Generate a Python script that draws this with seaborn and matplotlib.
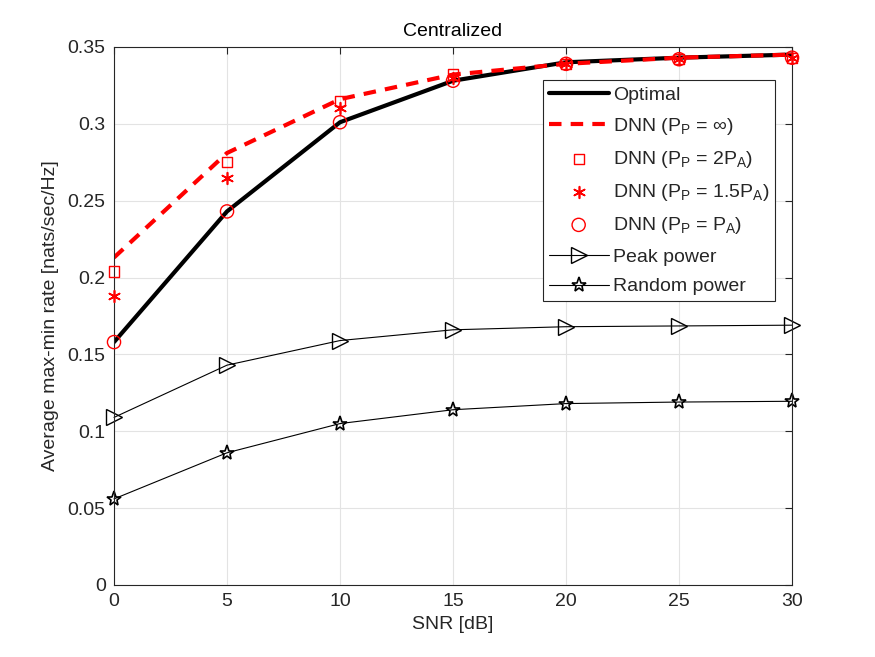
# max-min rate vs SNR, centralized case
import pandas as pd
import numpy as np
import seaborn as sns
import matplotlib.pyplot as plt

snr = [0, 5, 10, 15, 20, 25, 30]
optimal = [0.158, 0.243, 0.301, 0.328, 0.340, 0.343, 0.345]
dnn_inf = [0.213, 0.281, 0.316, 0.332, 0.339, 0.343, 0.345]
dnn_2pa = [0.204, 0.275, 0.315, 0.332, 0.339, 0.342, 0.343]
dnn_15pa = [0.188, 0.265, 0.310, 0.330, 0.339, 0.342, 0.343]
dnn_pa = [0.158, 0.243, 0.301, 0.328, 0.339, 0.342, 0.343]
peak = [0.109, 0.143, 0.159, 0.166, 0.168, 0.1685, 0.169]
rand_pw = [0.056, 0.086, 0.105, 0.114, 0.118, 0.119, 0.1195]

sns.set_style('whitegrid')
plt.rcParams['font.family'] = ['Liberation Sans', 'DejaVu Sans']
plt.rcParams['mathtext.fontset'] = 'custom'
plt.rcParams['mathtext.rm'] = 'Liberation Sans'
plt.rcParams['mathtext.it'] = 'Liberation Sans'
plt.rcParams['mathtext.sf'] = 'Liberation Sans'

df = pd.DataFrame({'SNR': snr, 'Optimal': optimal, 'DNN_inf': dnn_inf, 'DNN_2PA': dnn_2pa,
                   'DNN_15PA': dnn_15pa, 'DNN_PA': dnn_pa, 'Peak': peak, 'Random': rand_pw})

fig = plt.figure(figsize=(8.75, 6.57), dpi=100)
ax = fig.add_axes([0.1303, 0.1096, 0.7749, 0.819])

sns.lineplot(data=df, x='SNR', y='Optimal', color='black', linewidth=3, label='Optimal', ax=ax)
sns.lineplot(data=df, x='SNR', y='DNN_inf', color='red', linewidth=3, linestyle=(0, (3, 2.2)),
             label=r'DNN ($\mathrm{P_P}$ = $\infty$)', ax=ax)
sns.scatterplot(data=df, x='SNR', y='DNN_2PA', marker='s', s=55, facecolor='none', edgecolor='red',
                linewidth=1, label=r'DNN ($\mathrm{P_P}$ = 2$\mathrm{P_A}$)', ax=ax, zorder=4, clip_on=False)
sns.scatterplot(data=df, x='SNR', y='DNN_15PA', marker=(6, 2, 0), s=70, color='red',
                linewidth=1.2, label=r'DNN ($\mathrm{P_P}$ = 1.5$\mathrm{P_A}$)', ax=ax, zorder=4, clip_on=False)
sns.scatterplot(data=df, x='SNR', y='DNN_PA', marker='o', s=90, facecolor='none', edgecolor='red',
                linewidth=1, label=r'DNN ($\mathrm{P_P}$ = $\mathrm{P_A}$)', ax=ax, zorder=4, clip_on=False)
sns.lineplot(data=df, x='SNR', y='Peak', color='black', linewidth=0.8, marker='>', markersize=11,
             markerfacecolor='none', markeredgecolor='black', markeredgewidth=1, label='Peak power',
             ax=ax, clip_on=False)
sns.lineplot(data=df, x='SNR', y='Random', color='black', linewidth=0.8, marker='*', markersize=11,
             markerfacecolor='none', markeredgecolor='black', markeredgewidth=1.2, label='Random power',
             ax=ax, clip_on=False)

ax.set_xlim(0, 30)
ax.set_ylim(0, 0.35)
ax.set_xticks(snr)
ax.set_yticks(np.arange(0, 0.351, 0.05))
ax.set_yticklabels(['0', '0.05', '0.1', '0.15', '0.2', '0.25', '0.3', '0.35'])
ax.grid(True, color='#e3e3e3', linewidth=0.8)
for sp in ax.spines.values():
    sp.set_color('#262626')
    sp.set_linewidth(0.8)
ax.tick_params(direction='in', length=5, top=True, right=True, labelsize=14, colors='#262626', pad=6)
ax.set_xlabel('SNR [dB]', fontsize=14, color='#262626', labelpad=4)
ax.set_ylabel('Average max-min rate [nats/sec/Hz]', fontsize=14, color='#262626', labelpad=6)
ax.set_title('Centralized', fontsize=14, color='black', pad=8)

leg = ax.legend(loc='upper right', bbox_to_anchor=(0.989, 0.956), fontsize=14, frameon=True,
                fancybox=False, edgecolor='#262626', framealpha=1, handlelength=3.1,
                borderpad=0.3, labelspacing=0.62, handletextpad=0.2)
leg.get_frame().set_linewidth(0.8)

plt.savefig('out.png', dpi=100)
